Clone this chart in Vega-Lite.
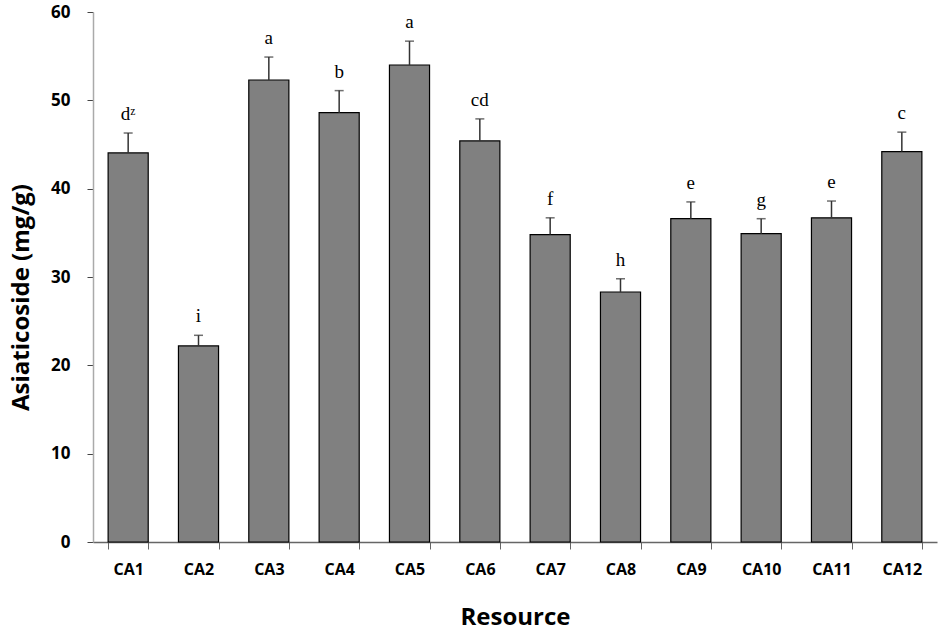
{
  "$schema": "https://vega.github.io/schema/vega-lite/v6.json",
  "autosize": "none",
  "width": 844,
  "height": 530,
  "padding": {"left": 93, "top": 12, "right": 12, "bottom": 95},
  "background": "white",
  "config": {
    "view": {"stroke": null},
    "font": "Open Sans"
  },
  "data": {
    "values": [
      {"resource": "CA1", "value": 44.05, "err": 46.3, "letter": "dᶻ"},
      {"resource": "CA2", "value": 22.2, "err": 23.4, "letter": "i"},
      {"resource": "CA3", "value": 52.3, "err": 54.9, "letter": "a"},
      {"resource": "CA4", "value": 48.6, "err": 51.1, "letter": "b"},
      {"resource": "CA5", "value": 54.0, "err": 56.7, "letter": "a"},
      {"resource": "CA6", "value": 45.4, "err": 47.9, "letter": "cd"},
      {"resource": "CA7", "value": 34.8, "err": 36.7, "letter": "f"},
      {"resource": "CA8", "value": 28.3, "err": 29.8, "letter": "h"},
      {"resource": "CA9", "value": 36.6, "err": 38.5, "letter": "e"},
      {"resource": "CA10", "value": 34.9, "err": 36.6, "letter": "g"},
      {"resource": "CA11", "value": 36.7, "err": 38.6, "letter": "e"},
      {"resource": "CA12", "value": 44.2, "err": 46.4, "letter": "c"}
    ]
  },
  "encoding": {
    "x": {
      "field": "resource",
      "type": "nominal",
      "sort": null,
      "scale": {"paddingInner": 0.43, "paddingOuter": 0.215},
      "axis": {
        "title": "Resource",
        "titleFont": "Open Sans",
        "titleFontSize": 24,
        "titleFontWeight": "bold",
        "titleColor": "black",
        "titlePadding": 28,
        "labelAngle": 0,
        "labelFont": "Open Sans",
        "labelFontSize": 16,
        "labelFontWeight": "bold",
        "labelColor": "black",
        "labelPadding": 12,
        "tickBand": "extent",
        "tickSize": 7,
        "tickColor": "#666",
        "domainColor": "#666",
        "domainWidth": 1.5
      }
    }
  },
  "layer": [
    {
      "mark": {"type": "bar", "fill": "#808080", "stroke": "black", "strokeWidth": 1.2},
      "encoding": {
        "y": {
          "field": "value",
          "type": "quantitative",
          "scale": {"domain": [0, 60], "nice": false},
          "axis": {
            "title": "Asiaticoside (mg/g)",
            "titleFont": "Open Sans",
            "titleFontSize": 24,
            "titleFontWeight": "bold",
            "titleColor": "black",
            "titleX": -60,
            "titleY": 285,
            "values": [0, 10, 20, 30, 40, 50, 60],
            "labelFont": "Open Sans",
            "labelFontSize": 17,
            "labelFontWeight": "bold",
            "labelColor": "black",
            "labelPadding": 17,
            "tickSize": 6,
            "tickColor": "#444",
            "domainColor": "#aaa",
            "domainWidth": 1.5,
            "grid": false
          }
        }
      }
    },
    {
      "mark": {"type": "rule", "color": "#333", "strokeWidth": 1.5},
      "encoding": {
        "y": {"field": "value", "type": "quantitative"},
        "y2": {"field": "err"}
      }
    },
    {
      "mark": {"type": "tick", "color": "#333", "thickness": 1.5, "size": 9, "orient": "horizontal"},
      "encoding": {
        "y": {"field": "err", "type": "quantitative"}
      }
    },
    {
      "mark": {"type": "text", "font": "Liberation Serif", "fontSize": 19, "baseline": "bottom", "dy": -9, "color": "black"},
      "encoding": {
        "y": {"field": "err", "type": "quantitative"},
        "text": {"field": "letter"}
      }
    }
  ]
}
